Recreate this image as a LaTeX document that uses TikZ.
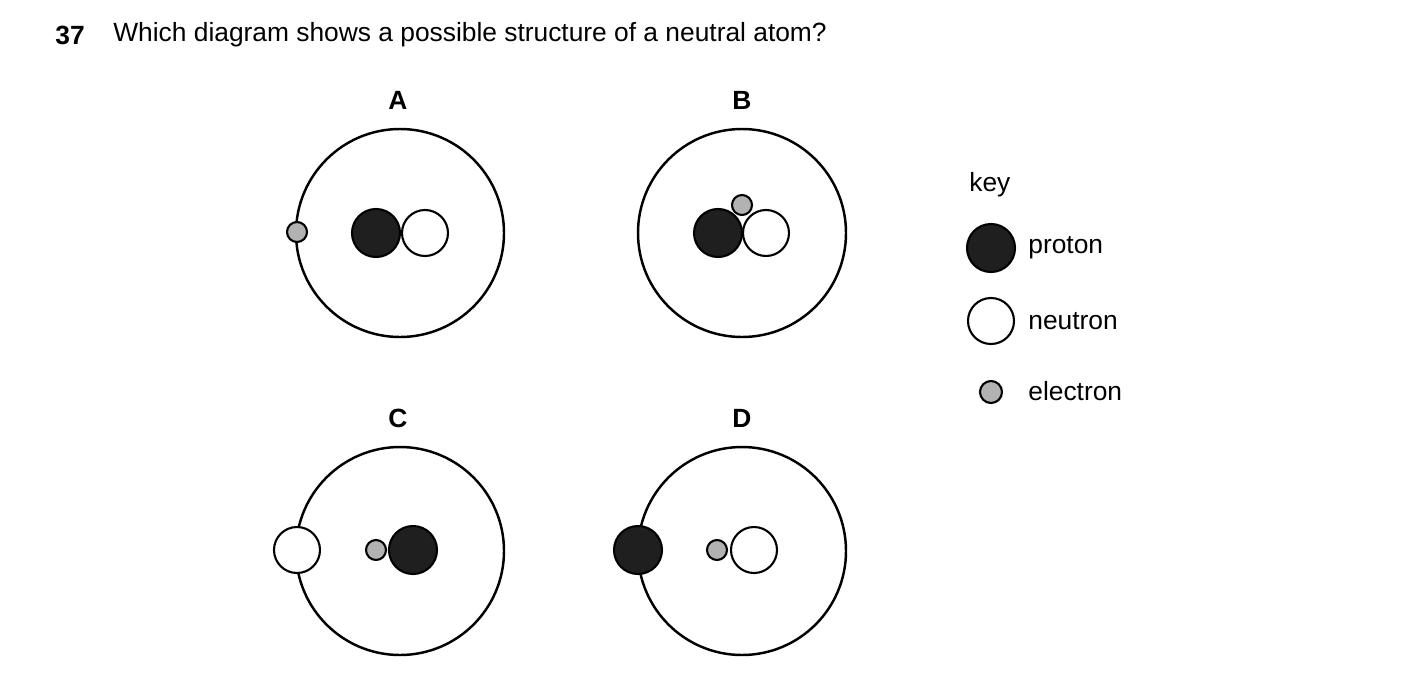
\documentclass[tikz,border=0pt]{standalone}
\usepackage{fontspec}
\setmainfont{Liberation Sans}
\begin{document}
\begin{tikzpicture}[x=0.02cm,y=-0.02cm,
 atom/.style={circle,draw,line width=1.4pt,minimum size=208*0.02cm,inner sep=0},
 pro/.style={circle,draw,line width=1.2pt,fill=black!88,minimum size=48*0.02cm,inner sep=0},
 neu/.style={circle,draw,line width=1.2pt,fill=white,minimum size=46*0.02cm,inner sep=0},
 ele/.style={circle,draw,line width=1.2pt,fill=black!30,minimum size=20*0.02cm,inner sep=0},
 lab/.style={font=\fontsize{15}{18}\selectfont\bfseries},
 txt/.style={font=\fontsize{15}{18}\selectfont,anchor=west,inner sep=0}]
\useasboundingbox (0,0) rectangle (1403,680);
\node[txt,font=\fontsize{15}{18}\selectfont\bfseries] (num) at (55,35) {37};
\node[txt] (q) at (113,35) {Which diagram shows a possible structure of a neutral atom?};
\node[lab] (la) at (398,100) {A};
\node[lab] (lb) at (742,100) {B};
\node[lab] (lc) at (398,418) {C};
\node[lab] (ld) at (742,418) {D};
\node[atom] (ca) at (400,233) {};
\node[atom] (cb) at (742,233) {};
\node[atom] (cc) at (400,551) {};
\node[atom] (cd) at (742,551) {};
% A
\node[ele] (ae) at (297,232) {};
\node[pro] (ap) at (376,233) {};
\node[neu] (an) at (425,233) {};
% B
\node[pro] (bp) at (718,233) {};
\node[neu] (bn) at (766,233) {};
\node[ele] (be) at (742,205) {};
% C
\node[neu] (cn) at (297,550) {};
\node[ele] (ce) at (376,550) {};
\node[pro] (cp) at (413,550) {};
% D
\node[pro] (dp) at (638,550) {};
\node[ele] (de) at (717,550) {};
\node[neu] (dn) at (754,550) {};
% key
\node[txt] (key) at (969,185) {key};
\node[pro] (kp) at (991,248) {};
\node[neu] (kn) at (991,321) {};
\node[ele,minimum size=22*0.02cm] (ke) at (991,392) {};
\node[txt] (tp) at (1028,248) {proton};
\node[txt] (tn) at (1028,321) {neutron};
\node[txt] (te) at (1028,391) {electron};
\end{tikzpicture}
\end{document}
